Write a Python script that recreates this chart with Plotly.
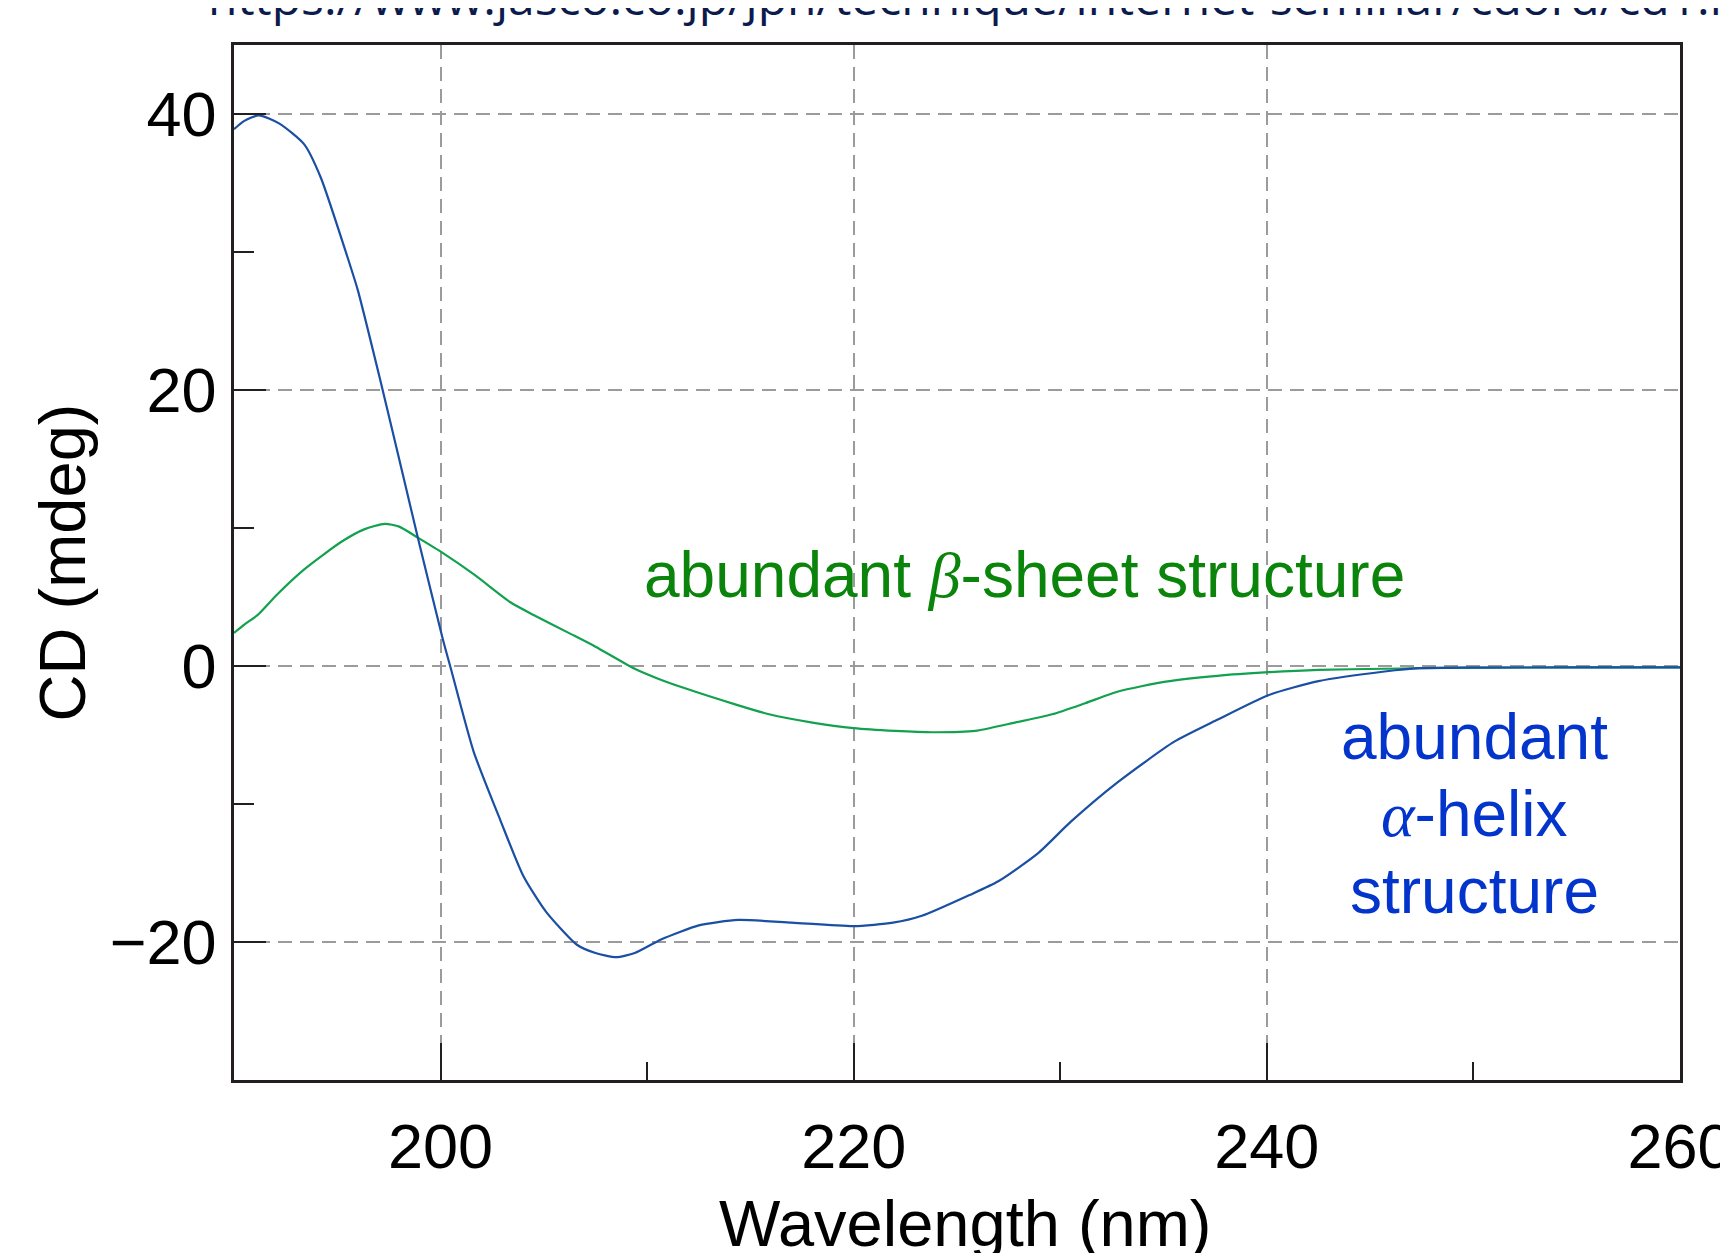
import plotly.graph_objects as go

# ---- data ----
helix_x = [190, 190.5, 191.2, 192.2, 193.4, 194.2, 195.5, 196.0, 197.1, 197.9, 198.9,
           200.1, 200.5, 201.6, 202.9, 204.0, 205.1, 206.6, 207.5, 208.5, 209.4, 210.7,
           212.5, 214.4, 217.0, 220.0, 221.9, 223.3, 225.6, 227.0, 228.9, 230.5, 232.8,
           235.5, 237.6, 240.1, 242.5, 245.7, 247.4, 250, 255, 260]
helix_y = [38.9, 39.5, 39.9, 39.3, 37.8, 35.4, 29.6, 27.2, 20.6, 15.6, 9.3,
           2.0, -0.2, -6.2, -11.2, -15.2, -17.8, -20.2, -20.8, -21.1, -20.8, -19.8,
           -18.8, -18.4, -18.6, -18.85, -18.6, -18.1, -16.6, -15.6, -13.6, -11.3, -8.4,
           -5.5, -3.9, -2.1, -1.1, -0.4, -0.16, -0.12, -0.1, -0.1]

sheet_x = [190, 190.5, 191.15, 192.1, 193.4, 195.2, 196.3, 197.3, 198.0, 198.9, 200.1,
           201.65, 203.4, 204.5, 206.2, 207.5, 209.4, 210.5, 211.8, 214.3, 215.9, 218.0,
           220.0, 222.0, 223.8, 225.9, 227.5, 229.6, 231.2, 232.8, 235.1, 237.6, 240.1,
           242.5, 245.7, 247.4, 250, 255, 260]
sheet_y = [2.4, 3.0, 3.7, 5.2, 7.0, 9.0, 9.9, 10.3, 10.1, 9.3, 8.2,
           6.6, 4.6, 3.7, 2.4, 1.4, -0.2, -0.9, -1.6, -2.8, -3.5, -4.1,
           -4.5, -4.7, -4.8, -4.7, -4.2, -3.5, -2.7, -1.85, -1.13, -0.71, -0.45,
           -0.28, -0.2, -0.16, -0.12, -0.1, -0.1]

x_range = [190, 260]
y_range = [-30, 45]
x_title = "Wavelength (nm)"
y_title = "CD (mdeg)"
url_text = "https://www.jasco.co.jp/jpn/technique/internet-seminar/cdord/cd1.html"
helix_lines = ["abundant", "<i>α</i>-helix", "structure"]
helix_line_y = [-5.14, -10.73, -16.32]

FONT = "Liberation Sans, Arial, sans-serif"
SERIF_I = "font-family:'Liberation Serif', 'Times New Roman', serif"
AXIS_COL = "#231f20"
GRID_COL = "#9b9b9b"

W, H = 1720, 1245          # page has an 8px body margin
L, R, T, B = 226, 48, 37, 173
plot_w = W - L - R
plot_h = H - T - B

fig = go.Figure()
fig.add_trace(go.Scatter(x=sheet_x, y=sheet_y, mode="lines",
                         line=dict(color="#12a14e", width=2.2, shape="spline", smoothing=0.6),
                         showlegend=False, hoverinfo="skip"))
fig.add_trace(go.Scatter(x=helix_x, y=helix_y, mode="lines",
                         line=dict(color="#1a4fa3", width=2.2, shape="spline", smoothing=0.6),
                         showlegend=False, hoverinfo="skip"))

fig.update_layout(
    width=W, height=H,
    margin=dict(l=L, r=R, t=T, b=B, autoexpand=False),
    paper_bgcolor="white", plot_bgcolor="white",
    font=dict(family=FONT, size=63, color="black"),
    showlegend=False,
)

fig.update_xaxes(
    range=x_range, tick0=200, dtick=20, ticks="inside", ticklen=37, tickwidth=2,
    tickcolor=AXIS_COL, showline=True, linecolor=AXIS_COL, linewidth=2.5, mirror=True,
    showgrid=True, gridcolor=GRID_COL, gridwidth=1.5, griddash="14px,8px",
    zeroline=False, automargin=False, ticklabelstandoff=10, ticklabeloverflow="allow",
    tickfont=dict(family=FONT, size=63, color="black"),
    minor=dict(dtick=10, tick0=200, ticks="inside", ticklen=18, tickwidth=2,
               tickcolor=AXIS_COL, showgrid=False),
)
fig.update_yaxes(
    range=y_range, tick0=0, dtick=20, ticks="inside", ticklen=32, tickwidth=2,
    tickcolor=AXIS_COL, showline=True, linecolor=AXIS_COL, linewidth=2.5, mirror=True,
    showgrid=True, gridcolor=GRID_COL, gridwidth=1.5, griddash="14px,8px",
    zeroline=False, automargin=False, ticklabelstandoff=2, ticklabeloverflow="allow",
    tickfont=dict(family=FONT, size=63, color="black"),
    minor=dict(dtick=10, tick0=0, ticks="inside", ticklen=20, tickwidth=2,
               tickcolor=AXIS_COL, showgrid=False),
    title=dict(text=y_title, font=dict(family=FONT, size=65, color="black"), standoff=4),
)

# x-axis title (slightly right of centre, as in the reference)
fig.add_annotation(
    x=0.5 + 8.3 / plot_w, y=(H - B - 1215) / plot_h, xref="paper", yref="paper",
    xanchor="center", yanchor="middle", text=x_title, showarrow=False,
    font=dict(family=FONT, size=65, color="black"),
)

fig.add_annotation(
    x=209.76, y=6.62, xref="x", yref="y", xanchor="left", yanchor="middle",
    text=f"abundant <span style=\"{SERIF_I}\"><i>β</i></span>-sheet structure",
    showarrow=False, font=dict(family=FONT, size=64, color="#0b840b"),
)
for line_text, ly in zip(helix_lines, helix_line_y):
    line_text = line_text.replace("<i>α</i>", f"<span style=\"{SERIF_I}\"><i>α</i></span>")
    fig.add_annotation(
        x=250.05, y=ly, xref="x", yref="y", xanchor="center", yanchor="middle",
        text=line_text, showarrow=False,
        font=dict(family=FONT, size=64, color="#0334cc"),
    )
fig.add_annotation(
    x=(198 - L) / plot_w, y=1 + (T - 23) / plot_h, xref="paper", yref="paper",
    xanchor="left", yanchor="bottom", text=url_text, showarrow=False,
    font=dict(family="Open Sans, sans-serif", size=48, color="#0c1b4d"),
)

fig.write_html("out.html")
